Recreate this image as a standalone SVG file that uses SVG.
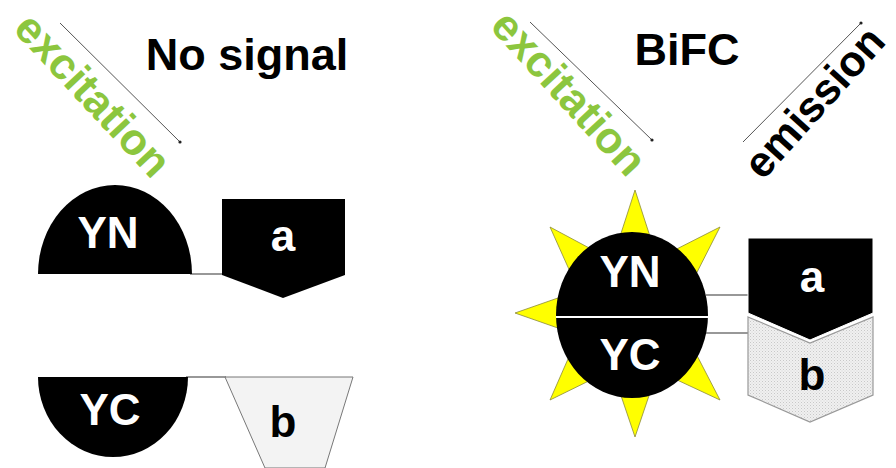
<svg xmlns="http://www.w3.org/2000/svg" width="896" height="468" viewBox="0 0 896 468">
  <defs>
    <style>
      .lbl { font-family: "Liberation Sans", Arial, sans-serif; font-weight: bold; font-size: 44px; text-anchor: middle; }
      .title { fill: #000; font-size: 45px; }
      .exc { fill: #8cc63e; }
      .emi { fill: #000; font-size: 43px; }
      .wh { fill: #fff; }
      .bk { fill: #000; }
      .ray { stroke: #555; stroke-width: 1; fill: none; }
      .link { stroke: #333; stroke-width: 1.2; fill: none; }
      .spike { fill: #ffff00; stroke: #8a8a3a; stroke-width: 0.8; }
    </style>
    <marker id="dot" viewBox="0 0 4 4" refX="2" refY="2" markerWidth="4" markerHeight="4" markerUnits="userSpaceOnUse">
      <circle cx="2" cy="2" r="1.6" fill="#222"/>
    </marker>
    <pattern id="stipple" width="3" height="3" patternUnits="userSpaceOnUse">
      <rect width="3" height="3" fill="#f0f0f0"/>
      <rect x="0" y="0" width="1" height="1" fill="#c8c8c8"/>
      <rect x="1.5" y="1.5" width="1" height="1" fill="#d6d6d6"/>
    </pattern>
  </defs>

  <rect width="896" height="468" fill="#ffffff"/>

  <!-- light paths and tethers -->
  <g id="connectors">
    <line class="ray" x1="60" y1="23" x2="180" y2="142" marker-end="url(#dot)"/>
    <line class="ray" x1="530" y1="22" x2="652" y2="140" marker-end="url(#dot)"/>
    <line class="ray" x1="743" y1="142" x2="861" y2="23" marker-end="url(#dot)"/>
    <!-- tethers from fluorophore halves to fusion partners -->
    <line class="link" x1="190" y1="274" x2="223" y2="274"/>
    <line class="link" x1="186" y1="377" x2="226" y2="377"/>
    <line class="link" x1="706" y1="295" x2="749" y2="295"/>
    <line class="link" x1="706" y1="333" x2="749" y2="333"/>
  </g>

  <g id="captions">
    <text class="lbl exc" transform="translate(82,105) rotate(47)">excitation</text>
    <text class="lbl exc" transform="translate(558,103) rotate(47.5)">excitation</text>
    <text class="lbl emi" transform="translate(825,112) rotate(-48)">emission</text>
    <text class="lbl title" x="247" y="70">No signal</text>
    <text class="lbl title" x="687" y="65">BiFC</text>
  </g>

  <!-- left panel: separated halves -->
  <g id="yn-left">
    <path d="M38,274 A77,89 0 0 1 192,274 Z" fill="#000"/>
    <text class="lbl wh" x="108" y="248">YN</text>
  </g>
  <g id="a-left">
    <polygon points="222,199 345,199 345,275 283,298 222,275" fill="#000"/>
    <text class="lbl wh" x="283" y="251">a</text>
  </g>
  <g id="yc-left">
    <path d="M38,377 A75,80 0 0 0 188,377 Z" fill="#000"/>
    <text class="lbl wh" x="110" y="425">YC</text>
  </g>
  <g id="b-left">
    <polygon points="225,377 353,377 325,468 265,468" fill="#f3f3f3" stroke="#777" stroke-width="1"/>
    <text class="lbl bk" x="283" y="437">b</text>
  </g>

  <!-- right panel: reconstituted fluorophore -->
  <g id="glow">
    <polygon class="spike" points="635,190 614,255 656,255"/>
    <polygon class="spike" points="635,437 614,375 656,375"/>
    <polygon class="spike" points="515,313 575,292 575,334"/>
    <polygon class="spike" points="550,227 606,257 576,285"/>
    <polygon class="spike" points="720,227 689,288 659,258"/>
    <polygon class="spike" points="550,400 605,373 575,343"/>
    <polygon class="spike" points="720,400 660,372 690,342"/>
  </g>
  <g id="yfp">
    <ellipse cx="632" cy="315" rx="76" ry="83" fill="#000"/>
    <line x1="556" y1="317" x2="708" y2="317" stroke="#fff" stroke-width="2"/>
    <text class="lbl wh" x="630" y="287">YN</text>
    <text class="lbl wh" x="630" y="370">YC</text>
  </g>
  <g id="b-right">
    <polygon points="748,317 810,343 873,317 873,395 810,422 748,395" fill="url(#stipple)" stroke="#999" stroke-width="1.2"/>
    <text class="lbl bk" x="812" y="390">b</text>
  </g>
  <g id="a-right">
    <polygon points="748,238 873,238 873,313 810,340 748,313" fill="#000" stroke="#fff" stroke-width="1"/>
    <text class="lbl wh" x="812" y="292">a</text>
  </g>
</svg>
